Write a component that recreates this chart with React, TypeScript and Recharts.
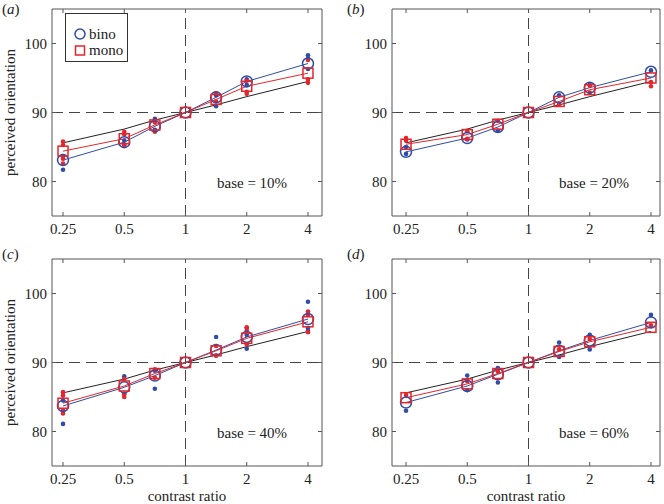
import React from "react";
import {
  ComposedChart,
  Line,
  Scatter,
  XAxis,
  YAxis,
  ReferenceLine,
  ReferenceArea,
} from "recharts";

// contrast ratios (log2 spaced)
const CONTRAST = [0.25, 0.5, 0.707, 1, 1.414, 2, 4];
const X_TICKS = [0.25, 0.5, 1, 2, 4];
const Y_TICKS = [80, 90, 100];
const REFERENCE = [85.6, 87.6, 88.9, 90, 91.1, 92.3, 94.5];

// means per panel
const BINO_A = [83.1, 85.7, 88.0, 90, 92.2, 94.5, 97.1];
const MONO_A = [84.4, 86.2, 88.2, 90, 91.9, 93.8, 95.7];
const BINO_B = [84.3, 86.3, 87.9, 90, 92.2, 93.6, 95.9];
const MONO_B = [85.4, 86.8, 88.3, 90, 91.6, 93.3, 95.0];
const BINO_C = [83.7, 86.4, 88.1, 90, 91.8, 93.7, 96.3];
const MONO_C = [84.1, 86.6, 88.4, 90, 91.7, 93.5, 95.9];
const BINO_D = [84.2, 86.6, 88.3, 90, 91.7, 93.2, 95.8];
const MONO_D = [84.9, 86.9, 88.4, 90, 91.6, 93.0, 95.1];

// individual observers
const DOTS_BINO_A = [
  [0.25, 83.7], [0.25, 81.7], [0.5, 85.3], [0.5, 85.9], [0.707, 89.1], [0.707, 87.5],
  [1.414, 90.9], [1.414, 92.5], [2, 94.8], [2, 94.0], [4, 98.3], [4, 97.8], [4, 96.3],
];
const DOTS_MONO_A = [
  [0.25, 85.8], [0.25, 85.3], [0.25, 83.3], [0.25, 82.6], [0.5, 87.2], [0.5, 86.8], [0.5, 85.3],
  [0.707, 88.6], [0.707, 87.2], [1.414, 92.8], [1.414, 91.6], [2, 93.0], [2, 92.7], [2, 94.6],
  [4, 97.6], [4, 94.3], [4, 94.8],
];
const DOTS_BINO_B = [
  [0.25, 85.0], [0.25, 84.0], [0.5, 86.1], [0.707, 87.4], [1.414, 92.5], [2, 94.0], [4, 96.1],
];
const DOTS_MONO_B = [
  [0.25, 86.3], [0.25, 85.9], [0.5, 87.3], [0.5, 86.2], [0.707, 88.8], [1.414, 91.2],
  [2, 93.9], [2, 92.9], [4, 93.8], [4, 94.4],
];
const DOTS_BINO_C = [
  [0.25, 81.1], [0.25, 84.5], [0.25, 83.0], [0.5, 88.0], [0.5, 85.5], [0.707, 86.2], [0.707, 88.8],
  [1.414, 93.7], [1.414, 91.0], [2, 95.0], [2, 92.0], [2, 94.0], [4, 98.8], [4, 95.0], [4, 94.6],
];
const DOTS_MONO_C = [
  [0.25, 85.7], [0.25, 85.2], [0.25, 83.0], [0.25, 82.6], [0.5, 87.6], [0.5, 85.0], [0.5, 85.4],
  [0.707, 89.0], [0.707, 87.8], [1.414, 92.4], [1.414, 91.0], [2, 95.1], [2, 94.6], [2, 92.6],
  [4, 97.4], [4, 96.9], [4, 94.4],
];
const DOTS_BINO_D = [
  [0.25, 83.0], [0.5, 88.1], [0.5, 86.0], [0.707, 89.2], [0.707, 87.1], [1.414, 92.9],
  [1.414, 90.8], [2, 94.0], [2, 91.9], [4, 96.9],
];
const DOTS_MONO_D = [
  [0.25, 85.3], [0.5, 87.3], [0.707, 88.7], [1.414, 91.9], [2, 93.4], [4, 95.4],
];

const BLUE = "#2f4da6";
const RED = "#e3262c";
const AX = "#555";
const FONT = "'Liberation Serif', 'Times New Roman', serif";

const MT = 9; // plot top inside each chart
const PH = 207; // plot height
const YW = 52; // y-axis width

const toRows = (bino: number[], mono: number[]) =>
  CONTRAST.map((x, i) => ({ x, ref: REFERENCE[i], bino: bino[i], mono: mono[i] }));
const toDots = (d: number[][]) => d.map(([x, y]) => ({ x, y }));

interface PanelProps {
  left: number;
  top: number;
  height: number;
  plotW: number;
  domain: [number, number];
  bino: number[];
  mono: number[];
  binoDots: number[][];
  monoDots: number[][];
  yLabel?: boolean;
  xLabel?: boolean;
}

function Panel({ left, top, height, plotW, domain, bino, mono, binoDots, monoDots, yLabel, xLabel }: PanelProps) {
  const width = YW + plotW + 4;
  const bottom = MT + PH;
  const xTick = (p: any) => (
    <g key={p.index}>
      <line x1={p.x} x2={p.x} y1={bottom} y2={bottom - 4} stroke={AX} />
      <line x1={p.x} x2={p.x} y1={MT} y2={MT + 4} stroke={AX} />
      <text x={p.x} y={bottom + 13} dy="0.35em" textAnchor="middle" fontSize={15} fill="#222" fontFamily={FONT}>
        {String(p.payload.value)}
      </text>
    </g>
  );
  const yTick = (p: any) => (
    <g key={p.index}>
      <line x1={YW} x2={YW + 4} y1={p.y} y2={p.y} stroke={AX} />
      <line x1={YW + plotW - 4} x2={YW + plotW} y1={p.y} y2={p.y} stroke={AX} />
      <text x={YW - 5} y={p.y} dy="0.35em" textAnchor="end" fontSize={15} fill="#222" fontFamily={FONT}>
        {String(p.payload.value)}
      </text>
    </g>
  );
  return (
    <div style={{ position: "absolute", left, top }}>
      <ComposedChart
        width={width}
        height={height}
        data={toRows(bino, mono)}
        margin={{ top: MT, right: 4, bottom: 0, left: 0 }}
      >
        <XAxis
          dataKey="x"
          type="number"
          scale="log"
          domain={domain}
          allowDataOverflow
          ticks={X_TICKS}
          tick={xTick}
          tickLine={false}
          axisLine={false}
          height={height - bottom}
          label={
            xLabel
              ? { value: "contrast ratio", position: "insideBottom", offset: 3, fontSize: 15, fill: "#222", fontFamily: FONT }
              : undefined
          }
        />
        <YAxis
          type="number"
          domain={[75, 105]}
          allowDataOverflow
          ticks={Y_TICKS}
          tick={yTick}
          tickLine={false}
          axisLine={false}
          width={YW}
          label={
            yLabel
              ? {
                  value: "perceived orientation",
                  angle: -90,
                  position: "insideLeft",
                  offset: 10,
                  textAnchor: "middle",
                  fontSize: 15,
                  fill: "#222",
                  fontFamily: FONT,
                }
              : undefined
          }
        />
        <ReferenceArea x1={domain[0]} x2={domain[1]} y1={75} y2={105} fill="none" stroke={AX} strokeWidth={1} ifOverflow="visible" />
        <ReferenceLine y={90} stroke="#444" strokeDasharray="11 6" />
        <ReferenceLine x={1} stroke="#444" strokeDasharray="11 6" />
        <Scatter
          data={toDots(binoDots)}
          dataKey="y"
          isAnimationActive={false}
          shape={(p: any) => <circle cx={p.cx} cy={p.cy} r={2.3} fill={BLUE} />}
        />
        <Scatter
          data={toDots(monoDots)}
          dataKey="y"
          isAnimationActive={false}
          shape={(p: any) => <circle cx={p.cx} cy={p.cy} r={2.3} fill={RED} />}
        />
        <Line dataKey="ref" stroke="#222" strokeWidth={1} dot={false} isAnimationActive={false} />
        <Line
          dataKey="bino"
          stroke={BLUE}
          strokeWidth={1}
          isAnimationActive={false}
          dot={(p: any) => <circle key={p.index} cx={p.cx} cy={p.cy} r={5.5} fill="none" stroke={BLUE} strokeWidth={1.5} />}
        />
        <Line
          dataKey="mono"
          stroke={RED}
          strokeWidth={1}
          isAnimationActive={false}
          dot={(p: any) => (
            <rect key={p.index} x={p.cx - 5} y={p.cy - 5} width={10} height={10} fill="none" stroke={RED} strokeWidth={1.5} />
          )}
        />
      </ComposedChart>
    </div>
  );
}

const textStyle = (left: number, top: number): React.CSSProperties => ({
  position: "absolute",
  left,
  top,
  fontFamily: FONT,
  fontSize: 15,
  color: "#222",
  lineHeight: "18px",
  whiteSpace: "nowrap",
});

export default function App() {
  const domL: [number, number] = [0.2207, 4.688];
  const domR: [number, number] = [0.2133, 4.43];
  return (
    <div style={{ position: "absolute", left: 0, top: 0, width: 664, height: 504, background: "#fff", overflow: "hidden" }}>
      <Panel left={0} top={0} height={250} plotW={270} domain={domL} bino={BINO_A} mono={MONO_A} binoDots={DOTS_BINO_A} monoDots={DOTS_MONO_A} yLabel />
      <Panel left={340} top={0} height={250} plotW={268} domain={domR} bino={BINO_B} mono={MONO_B} binoDots={DOTS_BINO_B} monoDots={DOTS_MONO_B} />
      <Panel left={0} top={250} height={254} plotW={270} domain={domL} bino={BINO_C} mono={MONO_C} binoDots={DOTS_BINO_C} monoDots={DOTS_MONO_C} yLabel xLabel />
      <Panel left={340} top={250} height={254} plotW={268} domain={domR} bino={BINO_D} mono={MONO_D} binoDots={DOTS_BINO_D} monoDots={DOTS_MONO_D} xLabel />

      <div style={textStyle(2, 0)}>(<i>a</i>)</div>
      <div style={textStyle(347, 0)}>(<i>b</i>)</div>
      <div style={textStyle(2, 245)}>(<i>c</i>)</div>
      <div style={textStyle(347, 245)}>(<i>d</i>)</div>

      <div style={textStyle(217, 174)}>base = 10%</div>
      <div style={textStyle(559, 174)}>base = 20%</div>
      <div style={textStyle(217, 424)}>base = 40%</div>
      <div style={textStyle(559, 424)}>base = 60%</div>

      <div style={{ position: "absolute", left: 65, top: 13, width: 61, height: 47, border: "1px solid #333", background: "#fff" }}>
        <svg width={16} height={47} style={{ position: "absolute", left: 6, top: 0 }}>
          <circle cx={8} cy={20} r={5} fill="none" stroke={BLUE} strokeWidth={1.5} />
          <rect x={3.5} y={32} width={9} height={9} fill="none" stroke={RED} strokeWidth={1.5} />
        </svg>
        <div style={textStyle(23, 11)}>bino</div>
        <div style={textStyle(23, 27)}>mono</div>
      </div>
    </div>
  );
}
